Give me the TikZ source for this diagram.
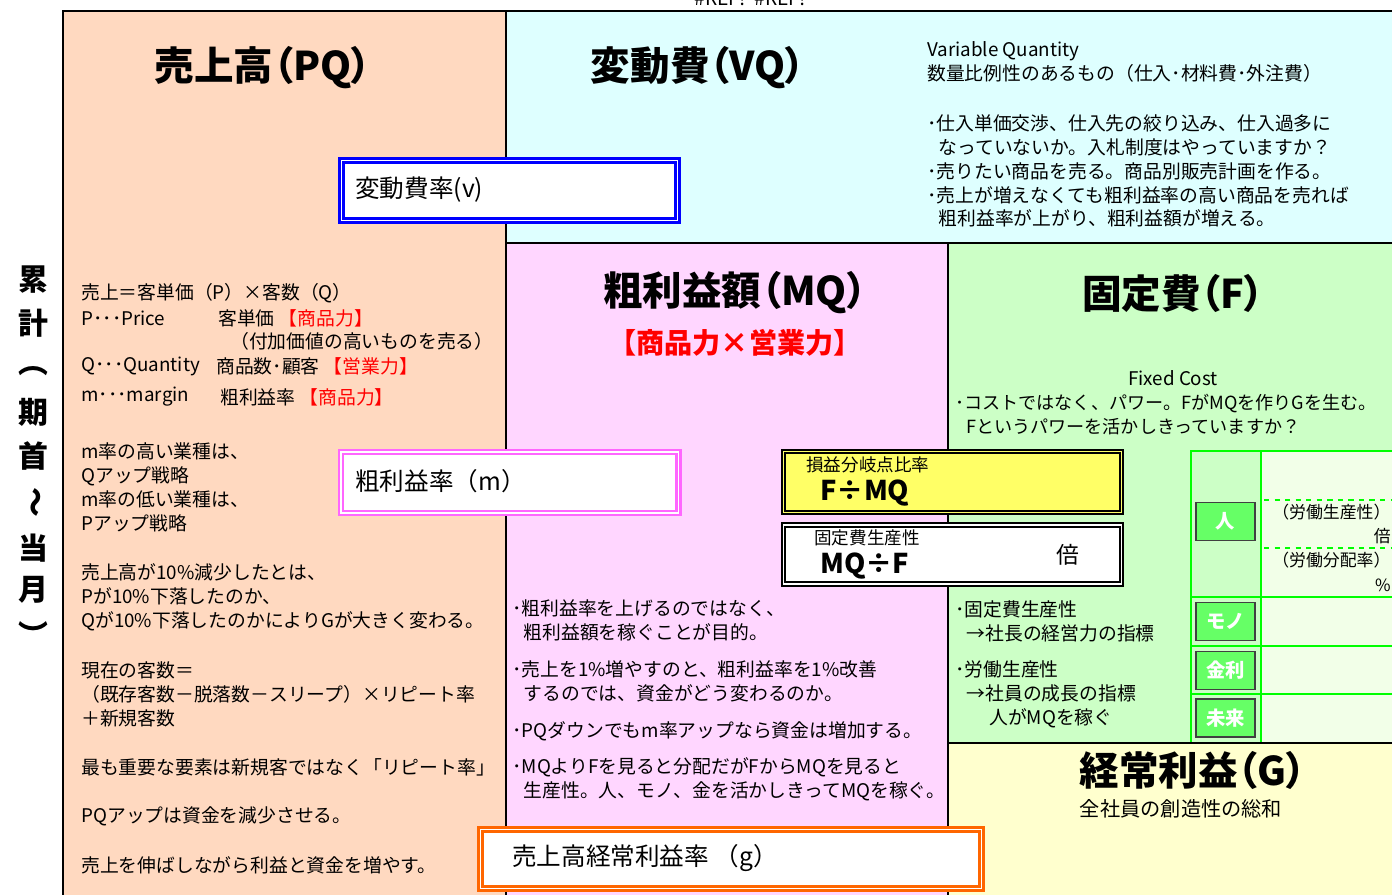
\documentclass[tikz,border=0pt]{standalone}
\usepackage{fontspec}
\setmainfont{Noto Sans CJK JP}
\usetikzlibrary{positioning}

\definecolor{peachbg}{RGB}{255,217,192}
\definecolor{cyanbg}{RGB}{222,255,255}
\definecolor{pinkbg}{RGB}{255,214,255}
\definecolor{greenbg}{RGB}{204,255,198}
\definecolor{yellowbg}{RGB}{255,255,206}
\definecolor{cellbg}{RGB}{242,255,232}
\definecolor{gridgreen}{RGB}{0,255,0}
\definecolor{taggreen}{RGB}{102,255,102}
\definecolor{tagedge}{RGB}{64,64,64}
\definecolor{framepink}{RGB}{255,102,255}
\definecolor{frameorange}{RGB}{255,102,0}
\definecolor{boxyellow}{RGB}{255,255,102}

\begin{document}
\begin{tikzpicture}[x=0.02cm, y=-0.02cm,
    body/.style={anchor=west, inner sep=0pt, align=left, font=\fontsize{10.7}{13.6}\selectfont},
    heading/.style={inner sep=0pt, font=\fontsize{22.5}{26}\selectfont\bfseries\addfontfeatures{RawFeature=+palt}},
    rate/.style={anchor=west, inner sep=0pt, font=\fontsize{14}{16}\selectfont},
    formula/.style={anchor=west, inner sep=0pt, font=\fontsize{15.5}{18}\selectfont\bfseries},
    caption/.style={anchor=west, inner sep=0pt, font=\fontsize{10}{12}\selectfont},
    ratebox/.style={line width=1.3pt, double=white, double distance=1.1pt, fill=white},
    blackbox/.style={draw=black, line width=1.3pt, double distance=0.6pt},
    tag/.style={draw=tagedge, fill=taggreen, line width=0.6pt, text=white,
        minimum width=1.18cm, minimum height=0.76cm, inner sep=0pt,
        font=\fontsize{11}{13}\selectfont\bfseries},
    cellnote/.style={inner sep=0pt, font=\fontsize{9.6}{12}\selectfont},
]

    % ====== Layout lines (pixels) ======
    \def\xLeft{63}   % left edge of the sheet
    \def\xMid{506}   % PQ | VQ, MQ
    \def\xRight{948} % MQ | F, G
    \def\xEnd{1392}
    \def\yTop{11}
    \def\yMid{243}   % VQ | MQ, F
    \def\yLow{743}   % F | G
    \def\yEnd{895}

    \useasboundingbox (0,0) rectangle (\xEnd,\yEnd);

    % ===== Region fills =====
    \fill[peachbg] (\xLeft,\yTop) rectangle (\xMid,\yEnd);
    \fill[cyanbg] (\xMid,\yTop) rectangle (\xEnd,\yMid);
    \fill[pinkbg] (\xMid,\yMid) rectangle (\xRight,\yEnd);
    \fill[greenbg] (\xRight,\yMid) rectangle (\xEnd,\yLow);
    \fill[yellowbg] (\xRight,\yLow) rectangle (\xEnd,\yEnd);

    % ===== Region borders =====
    \draw[line width=1.7pt] (\xLeft,\yEnd) -- (\xLeft,\yTop) -- (\xEnd,\yTop);
    \draw[line width=1.2pt] (\xMid,\yTop) -- (\xMid,\yEnd);
    \draw[line width=1.2pt] (\xMid,\yMid) -- (\xEnd,\yMid);
    \draw[line width=1.2pt] (\xRight,\yMid) -- (\xRight,\yEnd);
    \draw[line width=1.2pt] (\xRight,\yLow) -- (\xEnd,\yLow);

    % ===== Sheet note and side label =====
    \node[anchor=base, inner sep=0pt, font=\fontsize{11}{13}\selectfont] (refnote) at (750,6) {\#REF!\ \ \#REF!};
    \foreach \ch/\yy in {累/280, 計/323, ︵/371, 期/412, 首/456, 当/548, 月/590, ︶/634} {
        \node[inner sep=0pt, font=\fontsize{17}{20}\selectfont\bfseries] at (33,\yy) {\ch};
    }
    \node[inner sep=0pt, rotate=-90, font=\fontsize{17}{20}\selectfont\bfseries] (wave) at (33,502) {～};

    % ===== Headings =====
    \node[heading] (pq) at (263,68) {売上高（PQ）};
    \node[heading] (vq) at (698,68) {変動費（VQ）};
    \node[heading] (mq) at (735,293) {粗利益額（MQ）};
    \node[inner sep=0pt, text=red, font=\fontsize{16}{19}\selectfont\bfseries, below=8pt of mq] (mqpower) {【商品力×営業力】};
    \node[heading] (fc) at (1173,293) {固定費（F）};
    \node[heading] (gp) at (1193,770) {経常利益（G）};
    \node[inner sep=0pt, font=\fontsize{11.5}{13}\selectfont] (gnote) at (1181,809) {全社員の創造性の総和};

    % ===== PQ notes =====
    \node[body] (pqa) at (81,293) {売上＝客単価（P）×客数（Q）};
    \node[body] (pqb) at (81,318) {P･･･Price};
    \node[body] (pqb2) at (218,318) {客単価 \textcolor{red}{【商品力】}};
    \node[body] (pqb3) at (230,341) {（付加価値の高いものを売る）};
    \node[body] (pqc) at (81,366) {Q･･･Quantity};
    \node[body] (pqc2) at (216,366) {商品数･顧客 \textcolor{red}{【営業力】}};
    \node[body] (pqd) at (81,397) {m･･･margin};
    \node[body] (pqd2) at (220,397) {粗利益率 \textcolor{red}{【商品力】}};
    \node[body] (pqe) at (81,487.5) {m率の高い業種は、\\Qアップ戦略\\m率の低い業種は、\\Pアップ戦略};
    \node[body] (pqf) at (81,597) {売上高が10\%減少したとは、\\Pが10\%下落したのか、\\Qが10\%下落したのかによりGが大きく変わる。};
    \node[body] (pqg) at (81,694) {現在の客数＝\\（既存客数－脱落数－スリープ）×リピート率\\＋新規客数};
    \node[body] (pqh) at (81,767) {最も重要な要素は新規客ではなく「リピート率」};
    \node[body] (pqi) at (81,816) {PQアップは資金を減少させる。};
    \node[body] (pqj) at (81,865) {売上を伸ばしながら利益と資金を増やす。};

    % ===== VQ notes =====
    \node[body] (vqa) at (927,62) {Variable Quantity\\数量比例性のあるもの（仕入･材料費･外注費）};
    \node[body] (vqb) at (927,171) {･仕入単価交渉、仕入先の絞り込み、仕入過多に\\\hspace*{0.6em}なっていないか。入札制度はやっていますか？\\･売りたい商品を売る。商品別販売計画を作る。\\･売上が増えなくても粗利益率の高い商品を売れば\\\hspace*{0.6em}粗利益率が上がり、粗利益額が増える。};

    % ===== MQ notes =====
    \node[body] (mqa) at (512,620.5) {･粗利益率を上げるのではなく、\\\hspace*{0.6em}粗利益額を稼ぐことが目的。};
    \node[body] (mqb) at (512,681.5) {･売上を1\%増やすのと、粗利益率を1\%改善\\\hspace*{0.6em}するのでは、資金がどう変わるのか。};
    \node[body] (mqc) at (512,731) {･PQダウンでもm率アップなら資金は増加する。};
    \node[body] (mqd) at (512,779.5) {･MQよりFを見ると分配だがFからMQを見ると\\\hspace*{0.6em}生産性。人、モノ、金を活かしきってMQを稼ぐ。};

    % ===== F notes =====
    \node[inner sep=0pt, font=\fontsize{10.7}{12}\selectfont] (fcost) at (1173,378) {Fixed Cost};
    \node[body, font=\fontsize{10.3}{13.6}\selectfont] (fa) at (955,415) {･コストではなく、パワー。FがMQを作りGを生む。\\\hspace*{0.6em}Fというパワーを活かしきっていますか？};
    \node[body] (fb) at (955,621) {･固定費生産性\\\hspace*{0.6em}→社長の経営力の指標};
    \node[body] (fd) at (955,694) {･労働生産性\\\hspace*{0.6em}→社員の成長の指標\\\hspace*{1.8em}人がMQを稼ぐ};

    % ===== Rate boxes =====
    \draw[ratebox, draw=blue] (341.5,160.5) rectangle (677.5,220.5);
    \node[rate] (vrate) at (355,190) {変動費率(v)};
    \draw[ratebox, draw=framepink] (341,452) rectangle (678.5,513);
    \node[rate] (mrate) at (355,481) {粗利益率（m）};
    \draw[ratebox, draw=frameorange] (480.5,829.5) rectangle (981.5,888.5);
    \node[rate] (grate) at (512,858) {売上高経常利益率 （g）};

    % ===== Break-even and productivity =====
    \draw[blackbox, double=boxyellow, fill=boxyellow] (783.5,451.5) rectangle (1121.5,512.5);
    \node[caption] (bepcap) at (806,465) {損益分岐点比率};
    \node[formula] (bep) at (820,493) {F÷MQ};
    \draw[blackbox, double=white, fill=white] (783.5,525) rectangle (1121.5,584);
    \node[caption] (fppcap) at (814,538) {固定費生産性};
    \node[formula] (fpp) at (820,566) {MQ÷F};
    \node[inner sep=0pt, font=\fontsize{13}{15}\selectfont] (fppunit) at (1068,555) {倍};

    % ===== Resource grid =====
    \fill[greenbg] (1191,451) rectangle (1261,743);
    \fill[cellbg] (1261,451) rectangle (\xEnd,743);
    \draw[gridgreen, line width=1.6pt] (\xEnd,451) -- (1191,451) -- (1191,743);
    \draw[gridgreen, line width=1.6pt] (1261,451) -- (1261,743);
    \foreach \yy in {597,646,694} {
        \draw[gridgreen, line width=1.6pt] (1191,\yy) -- (\xEnd,\yy);
    }
    \foreach \yy in {500,548} {
        \draw[gridgreen, line width=1.1pt, dashed] (1264,\yy) -- (\xEnd,\yy);
    }
    \draw[line width=1.2pt] (\xRight,\yLow) -- (\xEnd,\yLow);

    \node[tag] (people) at (1225.5,521.5) {人};
    \node[tag] (goods) at (1225.5,621.5) {モノ};
    \node[tag] (money) at (1225.5,670.5) {金利};
    \node[tag] (future) at (1225.5,718) {未来};

    \node[cellnote, anchor=west] (lprod) at (1272,512) {（労働生産性）};
    \node[cellnote, anchor=east] (lprodunit) at (1391,536) {倍};
    \node[cellnote, anchor=west] (lshare) at (1272,560) {（労働分配率）};
    \node[cellnote, anchor=east] (lshareunit) at (1391,585) {\%};

\end{tikzpicture}
\end{document}
